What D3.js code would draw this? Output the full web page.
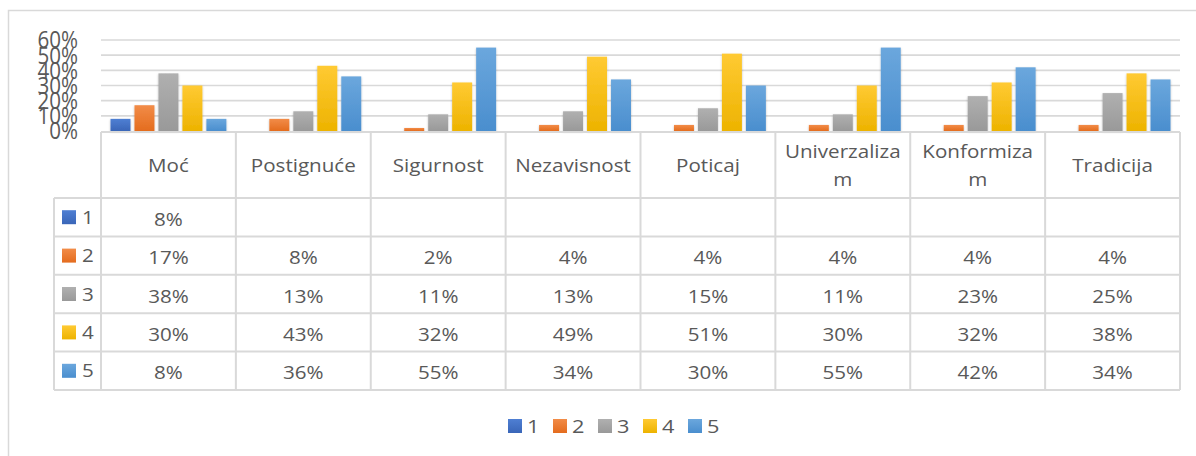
<!DOCTYPE html>
<html>
<head>
<meta charset="utf-8">
<script src="https://cdn.jsdelivr.net/npm/d3@7"></script>
<style>
  body { margin: 0; background: #fff; }
  svg { display: block; font-family: "Open Sans", sans-serif; }
</style>
</head>
<body>
<svg id="chart" width="1196" height="456"></svg>
<script>
var categories = ["Moć", "Postignuće", "Sigurnost", "Nezavisnost", "Poticaj", "Univerzalizam", "Konformizam", "Tradicija"];
var seriesNames = ["1", "2", "3", "4", "5"];
var series1 = [8, null, null, null, null, null, null, null];
var series2 = [17, 8, 2, 4, 4, 4, 4, 4];
var series3 = [38, 13, 11, 13, 15, 11, 23, 25];
var series4 = [30, 43, 32, 49, 51, 30, 32, 38];
var series5 = [8, 36, 55, 34, 30, 55, 42, 34];
var yTicks = [0, 10, 20, 30, 40, 50, 60];

var seriesValues = [series1, series2, series3, series4, series5];
var colors = ["#4472C4", "#ED7D31", "#A5A5A5", "#FFC000", "#5B9BD5"];
var tops = ["#4F7FD3", "#F28C48", "#B0B0B0", "#FFCA33", "#6BA7DD"];
var bottoms = ["#3A66B8", "#E46C1E", "#999999", "#EDB300", "#4A8ECE"];

var svg = d3.select("#chart");
var textColor = "#595959";
var lineColor = "#D9D9D9";
var stretch = 1.145;

var plotLeft = 101, plotRight = 1180, plotTop = 40, plotBottom = 131;
var tableTop = 132, headerBottom = 198, rowH = 38.4, legendLeft = 54;

var defs = svg.append("defs");
colors.forEach(function(c, i) {
    var g = defs.append("linearGradient")
        .attr("id", "grad" + i)
        .attr("x1", 0).attr("y1", 0).attr("x2", 0).attr("y2", 1);
    g.append("stop").attr("offset", "0%").attr("stop-color", tops[i]);
    g.append("stop").attr("offset", "100%").attr("stop-color", bottoms[i]);
});
var shadow = defs.append("filter").attr("id", "shadow")
    .attr("x", "-20%").attr("y", "-10%").attr("width", "140%").attr("height", "130%");
shadow.append("feDropShadow")
    .attr("dx", 0).attr("dy", 1).attr("stdDeviation", 1.2)
    .attr("flood-color", "#000").attr("flood-opacity", 0.25);

// outer frame
svg.append("rect")
    .attr("x", 8.5).attr("y", 10.5)
    .attr("width", 1300).attr("height", 600)
    .attr("fill", "none").attr("stroke", lineColor).attr("stroke-width", 1.5);

var x0 = d3.scaleBand().domain(categories).range([plotLeft, plotRight]).padding(0);
var x1 = d3.scaleBand().domain(seriesNames)
    .range([9.5, x0.bandwidth() - 9.5]).paddingInner(0.167).paddingOuter(0);
var y = d3.scaleLinear().domain([0, 60]).range([plotBottom, plotTop]);

// gridlines
svg.append("g").selectAll("line")
    .data(yTicks.filter(function(t) { return t > 0; }))
    .enter().append("line")
    .attr("x1", plotLeft).attr("x2", plotRight)
    .attr("y1", function(d) { return y(d); })
    .attr("y2", function(d) { return y(d); })
    .attr("stroke", lineColor).attr("stroke-width", 1.6);

// y labels (stretched like the original rendering)
svg.append("g").selectAll("text")
    .data(yTicks)
    .enter().append("text")
    .attr("transform", function(d) { return "translate(78," + y(d) + ") scale(" + stretch + ",1.3)"; })
    .attr("text-anchor", "end")
    .attr("dy", "0.36em")
    .attr("font-size", 18)
    .attr("fill", textColor)
    .text(function(d) { return d + "%"; });

// bars
var groups = svg.append("g").selectAll("g")
    .data(categories)
    .enter().append("g")
    .attr("transform", function(d) { return "translate(" + x0(d) + ",0)"; });

groups.selectAll("rect")
    .data(function(d, ci) {
        return seriesNames.map(function(s, si) {
            return { series: s, index: si, value: seriesValues[si][ci] };
        }).filter(function(e) { return e.value !== null; });
    })
    .enter().append("rect")
    .attr("x", function(d) { return x1(d.series); })
    .attr("width", x1.bandwidth())
    .attr("y", function(d) { return y(d.value); })
    .attr("height", function(d) { return y(0) - y(d.value); })
    .attr("fill", function(d) { return "url(#grad" + d.index + ")"; })
    .attr("filter", "url(#shadow)");

// data table
var table = svg.append("g");
var tableBottom = headerBottom + rowH * seriesNames.length;
var colEdges = categories.map(function(c) { return x0(c); }).concat([plotRight]);

table.append("line")
    .attr("x1", plotLeft).attr("x2", plotRight)
    .attr("y1", tableTop).attr("y2", tableTop);
seriesNames.concat(["end"]).forEach(function(s, i) {
    table.append("line")
        .attr("x1", legendLeft).attr("x2", plotRight)
        .attr("y1", headerBottom + rowH * i).attr("y2", headerBottom + rowH * i);
});
colEdges.forEach(function(xe) {
    table.append("line")
        .attr("x1", xe).attr("x2", xe)
        .attr("y1", tableTop).attr("y2", tableBottom);
});
table.append("line")
    .attr("x1", legendLeft).attr("x2", legendLeft)
    .attr("y1", headerBottom).attr("y2", tableBottom);
table.selectAll("line").attr("stroke", lineColor).attr("stroke-width", 2);

function stretchedText(parent, cx, cy, str, size, anchor) {
    return parent.append("text")
        .attr("transform", "translate(" + cx + "," + cy + ") scale(" + stretch + ",1)")
        .attr("text-anchor", anchor || "middle")
        .attr("font-size", size)
        .attr("fill", textColor)
        .text(str);
}

// header with character wrapping, as Excel does for long words
var maxW = 124;
categories.forEach(function(c) {
    var cx = x0(c) + x0.bandwidth() / 2;
    var t = stretchedText(table, cx, 0, c, 18);
    var lines = [c];
    if (t.node().getComputedTextLength() * stretch > maxW) {
        lines = [];
        var cur = "";
        for (var k = 0; k < c.length; k++) {
            t.text(cur + c[k]);
            if (t.node().getComputedTextLength() * stretch > maxW && cur.length) {
                lines.push(cur);
                cur = c[k];
            } else {
                cur += c[k];
            }
        }
        lines.push(cur);
    }
    t.remove();
    var mid = (tableTop + headerBottom) / 2 + 7;
    lines.forEach(function(line, li) {
        var off = (li - (lines.length - 1) / 2) * 28;
        stretchedText(table, cx, mid + off, line, 18);
    });
});

// rows
seriesNames.forEach(function(s, si) {
    var rc = headerBottom + rowH * si + rowH / 2;
    table.append("rect")
        .attr("x", 62).attr("y", rc - 7)
        .attr("width", 14).attr("height", 14)
        .attr("fill", "url(#grad" + si + ")");
    stretchedText(table, 82, rc + 6.5, s, 18, "start");
    categories.forEach(function(c, ci) {
        var v = seriesValues[si][ci];
        if (v === null) return;
        stretchedText(table, x0(c) + x0.bandwidth() / 2, rc + 8.5, v + "%", 18);
    });
});

// bottom legend
var legend = svg.append("g");
seriesNames.forEach(function(s, si) {
    var lx = 508 + si * 45;
    legend.append("rect")
        .attr("x", lx).attr("y", 419)
        .attr("width", 14).attr("height", 14)
        .attr("fill", "url(#grad" + si + ")");
    stretchedText(legend, lx + 19, 433, s, 19, "start");
});
</script>
</body>
</html>
